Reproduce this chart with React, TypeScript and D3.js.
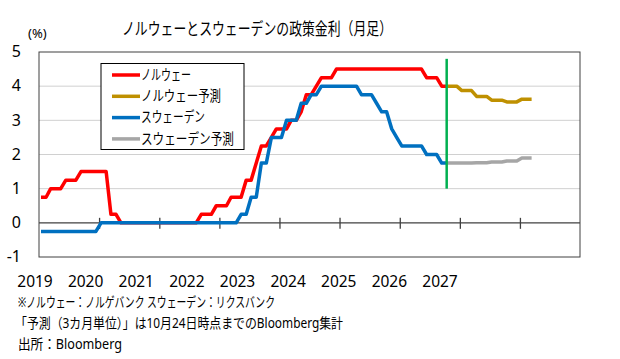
import { useEffect, useRef } from "react";
import * as d3 from "d3";

// monthly, Jan 2019 .. Oct 2025
const norway = [
  0.75, 0.75, 1, 1, 1, 1.25, 1.25, 1.25, 1.5, 1.5, 1.5, 1.5,
  1.5, 1.5, 0.25, 0.25, 0, 0, 0, 0, 0, 0, 0, 0,
  0, 0, 0, 0, 0, 0, 0, 0, 0.25, 0.25, 0.25, 0.5,
  0.5, 0.5, 0.75, 0.75, 0.75, 1.25, 1.25, 1.75, 2.25, 2.25, 2.5, 2.75,
  2.75, 2.75, 3, 3, 3.25, 3.75, 3.75, 4, 4.25, 4.25, 4.25, 4.5,
  4.5, 4.5, 4.5, 4.5, 4.5, 4.5, 4.5, 4.5, 4.5, 4.5, 4.5, 4.5,
  4.5, 4.5, 4.5, 4.5, 4.5, 4.25, 4.25, 4.25, 4, 4,
];
const sweden = [
  -0.25, -0.25, -0.25, -0.25, -0.25, -0.25, -0.25, -0.25, -0.25, -0.25, -0.25, -0.25,
  0, 0, 0, 0, 0, 0, 0, 0, 0, 0, 0, 0,
  0, 0, 0, 0, 0, 0, 0, 0, 0, 0, 0, 0,
  0, 0, 0, 0, 0.25, 0.25, 0.75, 0.75, 1.75, 1.75, 2.5, 2.5,
  2.5, 3, 3, 3, 3.5, 3.5, 3.75, 3.75, 4, 4, 4, 4,
  4, 4, 4, 4, 3.75, 3.75, 3.75, 3.5, 3.25, 3.25, 2.75, 2.5,
  2.25, 2.25, 2.25, 2.25, 2.25, 2, 2, 2, 1.75, 1.75,
];
// forecasts, Oct 2025 .. Mar 2027 (quarterly steps)
const norwayForecast = [
  4, 4, 4, 3.87, 3.87, 3.87, 3.7, 3.7, 3.7,
  3.59, 3.59, 3.59, 3.54, 3.54, 3.54, 3.62, 3.62, 3.62,
];
const swedenForecast = [
  1.75, 1.75, 1.75, 1.75, 1.75, 1.75, 1.76, 1.76, 1.76,
  1.78, 1.78, 1.78, 1.81, 1.81, 1.81, 1.9, 1.9, 1.9,
];
const forecastStart = 81; // Oct 2025
const markerLine = [4.8, 1.0];

const yTicks = [-1, 0, 1, 2, 3, 4, 5];
const gridValues = [1, 2, 3, 4];
const yearLabels = ["2019", "2020", "2021", "2022", "2023", "2024", "2025", "2026", "2027"];
const yearTicks = [2020, 2021, 2022, 2023, 2024, 2025, 2026, 2027];

const seriesNames = ["ノルウェー", "ノルウェー予測", "スウェーデン", "スウェーデン予測"];
const seriesColors = ["#FF0000", "#BF9000", "#0070C0", "#A6A6A6"];

const title = "ノルウェーとスウェーデンの政策金利（月足）";
const notes = [
  "※ノルウェー：ノルゲバンク スウェーデン：リクスバンク",
  "「予測（3カ月単位）」は10月24日時点までのBloomberg集計",
  "出所：Bloomberg",
];

const JP = "'Noto Sans', 'Noto Sans CJK JP', sans-serif";

const monthDate = (i: number) => new Date(2019, i, 13);

export default function App() {
  const svgRef = useRef<SVGSVGElement>(null);
  const width = 620;
  const height = 359;

  useEffect(() => {
    if (!svgRef.current) return;
    const svg = d3.select(svgRef.current);
    svg.selectAll("*").remove();

    const left = 39, right = 580, top = 52, bottom = 257;

    const x = d3.scaleTime()
      .domain([new Date(2019, 0, 1), new Date(2028, 0, 1)])
      .range([left, right]);
    const y = d3.scaleLinear().domain([-1, 5]).range([bottom, top]);

    svg.append("rect").attr("width", width).attr("height", height).attr("fill", "#fff");

    // gridlines
    svg.append("g")
      .selectAll("line")
      .data(gridValues)
      .join("line")
      .attr("x1", left).attr("x2", right)
      .attr("y1", d => y(d)).attr("y2", d => y(d))
      .attr("stroke", "#D0D0D0")
      .attr("stroke-width", 1);

    // plot border
    svg.append("rect")
      .attr("x", left).attr("y", top)
      .attr("width", right - left).attr("height", bottom - top)
      .attr("fill", "none")
      .attr("stroke", "#404040")
      .attr("stroke-width", 1);

    // zero axis with crossing ticks
    svg.append("line")
      .attr("x1", left).attr("x2", right)
      .attr("y1", y(0)).attr("y2", y(0))
      .attr("stroke", "#404040")
      .attr("stroke-width", 1.3);

    const xAxis = d3.axisBottom(x)
      .tickValues(yearTicks.map(yr => new Date(yr, 0, 1)))
      .tickSize(11)
      .tickFormat(() => "");
    const axisG = svg.append("g")
      .attr("transform", `translate(0,${y(0) - 5})`)
      .call(xAxis);
    axisG.select(".domain").remove();
    axisG.selectAll(".tick line").attr("stroke", "#404040").attr("stroke-width", 1.3);

    // y tick labels
    svg.append("g")
      .selectAll("text")
      .data(yTicks)
      .join("text")
      .attr("x", 21)
      .attr("y", d => y(d) + 1)
      .attr("text-anchor", "end")
      .attr("dominant-baseline", "middle")
      .attr("font-family", JP)
      .attr("font-size", 16)
      .attr("fill", "#000")
      .text(d => String(d));

    svg.append("text")
      .attr("x", 28).attr("y", 38)
      .attr("font-family", JP)
      .attr("font-size", 13)
      .text("(%)");

    // year labels (Excel places them on their own spacing)
    const xl = d3.scalePoint<string>().domain(yearLabels).range([35, 440]);
    svg.append("g")
      .selectAll("text")
      .data(yearLabels)
      .join("text")
      .attr("x", d => xl(d) as number)
      .attr("y", 287)
      .attr("text-anchor", "middle")
      .attr("font-family", JP)
      .attr("font-size", 15.5)
      .text(d => d);

    // lines
    const line = d3.line<{ i: number; v: number }>()
      .x(d => x(monthDate(d.i)))
      .y(d => y(d.v));

    const series = [
      { data: norway.map((v, i) => ({ i, v })), color: seriesColors[0] },
      { data: sweden.map((v, i) => ({ i, v })), color: seriesColors[2] },
      { data: norwayForecast.map((v, k) => ({ i: forecastStart + k, v })), color: seriesColors[1] },
      { data: swedenForecast.map((v, k) => ({ i: forecastStart + k, v })), color: seriesColors[3] },
    ];
    svg.append("g")
      .selectAll("path")
      .data(series)
      .join("path")
      .attr("d", d => line(d.data))
      .attr("fill", "none")
      .attr("stroke", d => d.color)
      .attr("stroke-width", 3.5)
      .attr("stroke-linejoin", "round");

    // forecast start marker
    svg.append("path")
      .attr("d", line(markerLine.map(v => ({ i: forecastStart, v }))))
      .attr("stroke", "#00B050")
      .attr("stroke-width", 2.5)
      .attr("fill", "none");

    // legend
    const lg = svg.append("g");
    lg.append("rect")
      .attr("x", 101).attr("y", 63.5)
      .attr("width", 143).attr("height", 86)
      .attr("fill", "#fff")
      .attr("stroke", "#000")
      .attr("stroke-width", 1);
    const legendW = [50, 80, 64, 93];
    seriesNames.forEach((name, k) => {
      const ry = 75 + k * 21.3;
      lg.append("line")
        .attr("x1", 112).attr("x2", 140)
        .attr("y1", ry).attr("y2", ry)
        .attr("stroke", seriesColors[k])
        .attr("stroke-width", 3.5);
      lg.append("text")
        .attr("x", 141).attr("y", ry + 1)
        .attr("dominant-baseline", "middle")
        .attr("font-family", JP)
        .attr("font-size", 14.5)
        .attr("textLength", legendW[k])
        .attr("lengthAdjust", "spacingAndGlyphs")
        .text(name);
    });

    // title
    svg.append("text")
      .attr("x", 122).attr("y", 35)
      .attr("font-family", JP)
      .attr("font-size", 17)
      .attr("textLength", 270)
      .attr("lengthAdjust", "spacingAndGlyphs")
      .text(title);

    // notes
    const noteX = [18, 15, 18];
    const noteY = [307, 328, 349];
    const noteW = [257, 328, 104];
    notes.forEach((t, k) => {
      svg.append("text")
        .attr("x", noteX[k]).attr("y", noteY[k])
        .attr("font-family", JP)
        .attr("font-size", 14)
        .attr("textLength", noteW[k])
        .attr("lengthAdjust", "spacingAndGlyphs")
        .text(t);
    });
  }, []);

  return (
    <svg
      ref={svgRef}
      width={width}
      height={height}
      style={{ position: "absolute", left: 0, top: 0 }}
    />
  );
}
